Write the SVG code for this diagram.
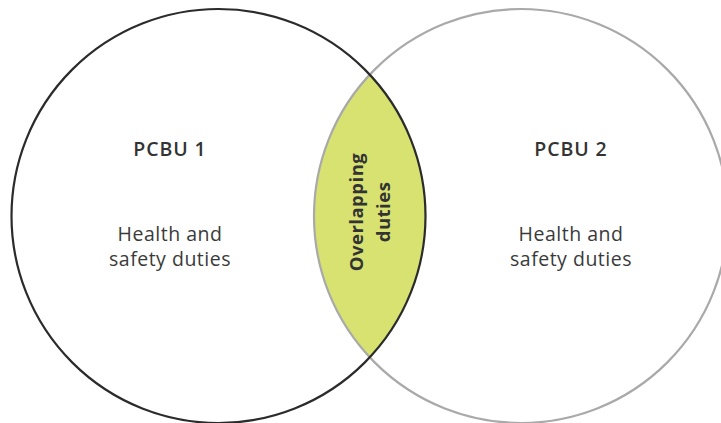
<svg xmlns="http://www.w3.org/2000/svg" width="721" height="423" viewBox="0 0 721 423">
<style>
.t{font-family:"Open Sans","Noto Sans",sans-serif;fill:#333333;text-anchor:middle}
.h{font-size:19.5px;font-weight:600;letter-spacing:0.9px}
.b{font-size:19.5px;font-weight:400;fill:#3a3a3a;letter-spacing:0.5px}
.o{font-size:18.5px;font-weight:700;letter-spacing:0.5px}
</style>
<rect width="721" height="423" fill="#ffffff"/>
<g id="overlap">
<path d="M369.75 74.7 A207 207 0 0 1 369.75 357.3 A207 207 0 0 1 369.75 74.7 Z" fill="#d7e271"/>
</g>
<g id="pcbu2">
<circle cx="521" cy="216" r="207" fill="none" stroke="#a9a9a9" stroke-width="2.2"/>
<text class="t h" x="571" y="156">PCBU 2</text>
<text class="t b" x="571" y="241">Health and</text>
<text class="t b" x="571" y="266">safety duties</text>
</g>
<g id="pcbu1">
<circle cx="218.5" cy="216" r="207" fill="none" stroke="#2b2b2b" stroke-width="2.2"/>
<text class="t h" x="170" y="156">PCBU 1</text>
<text class="t b" x="170" y="241">Health and</text>
<text class="t b" x="170" y="266">safety duties</text>
</g>
<g id="overlap-label">
<text class="t o" transform="translate(363 212) rotate(-90)">Overlapping</text>
<text class="t o" transform="translate(389.5 212) rotate(-90)">duties</text>
</g>
<g id="connectors"/>
</svg>
